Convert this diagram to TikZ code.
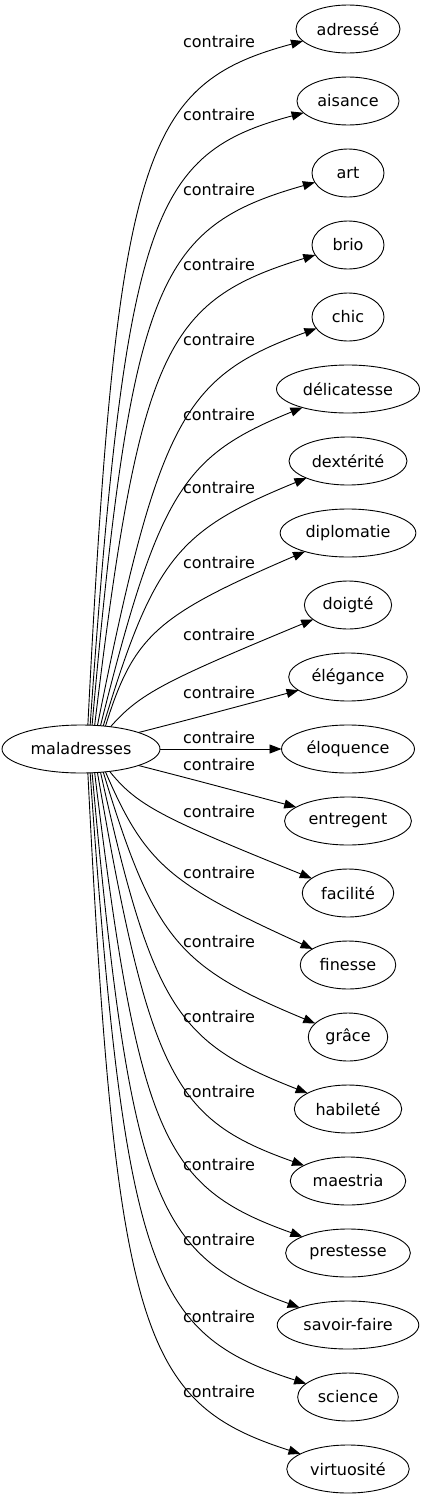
\documentclass[tikz,border=0pt]{standalone}
\usepackage{fontspec}
\setmainfont{DejaVu Sans}
\usetikzlibrary{arrows.meta, positioning, calc, shapes.geometric}

\begin{document}
\begin{tikzpicture}[x=1pt, y=-1pt, node distance=24pt,
  word/.style={draw, ellipse, line width=0.9pt, minimum width=72pt, minimum height=48pt,
               inner xsep=5.5pt, outer sep=0pt, font=\fontsize{16}{19}\selectfont},
  rel/.style={inner sep=1pt, font=\fontsize{16}{19}\selectfont},
  arrow/.style={-{Triangle[length=12pt, width=9pt]}, line width=0.9pt}]

  \useasboundingbox (0,0) rectangle (427,1499);

  \node[word] (mal) at (81,749) {maladresses};

  \node[word] (adresse) at (348,29)      {adressé};
  \node[word, below=of adresse]     (aisance)     {aisance};
  \node[word, below=of aisance]     (art)         {art};
  \node[word, below=of art]         (brio)        {brio};
  \node[word, below=of brio]        (chic)        {chic};
  \node[word, below=of chic]        (delicatesse) {délicatesse};
  \node[word, below=of delicatesse] (dexterite)   {dextérité};
  \node[word, below=of dexterite]   (diplomatie)  {diplomatie};
  \node[word, below=of diplomatie]  (doigte)      {doigté};
  \node[word, below=of doigte]      (elegance)    {élégance};
  \node[word, below=of elegance]    (eloquence)   {éloquence};
  \node[word, below=of eloquence]   (entregent)   {entregent};
  \node[word, below=of entregent]   (facilite)    {facilité};
  \node[word, below=of facilite]    (finesse)     {finesse};
  \node[word, below=of finesse]     (grace)       {grâce};
  \node[word, below=of grace]       (habilete)    {habileté};
  \node[word, below=of habilete]    (maestria)    {maestria};
  \node[word, below=of maestria]    (prestesse)   {prestesse};
  \node[word, below=of prestesse]   (savoirfaire) {savoir-faire};
  \node[word, below=of savoirfaire] (science)     {science};
  \node[word, below=of science]     (virtuosite)  {virtuosité};

  % edges: target / start angle on maladresses / bend point
  \foreach \w/\a/\kx/\ky in {adresse/74/120/90, aisance/69/130/159, art/65/136/233,
      brio/60/145/307, chic/55/166/383, delicatesse/50/166/463, dexterite/46/160/538,
      diplomatie/43/137/624, doigte/37/143/690, elegance/16/195/718,
      entregent/-16/195/780, facilite/-38/140/809, finesse/-43/150/875,
      grace/-46/160/959, habilete/-50/159/1035, maestria/-55/156/1113,
      prestesse/-60/144/1180, savoirfaire/-65/135/1248, science/-69/129/1327,
      virtuosite/-74/119/1396}
    \draw[arrow] (mal.\a) .. controls ($(mal.\a)!.9!(\kx,\ky)$)
                              and ($(\w)!.9!(\kx,\ky)$) .. (\w);
  \draw[arrow] (mal) -- (eloquence);

  % labels
  \foreach \ly in {42,115,190,265,340,415,488,563,635,693,738,
                   765,812,873,942,1017,1092,1165,1240,1317,1392}
    \node[rel] (lab\ly) at (219,\ly) {contraire};
\end{tikzpicture}
\end{document}
